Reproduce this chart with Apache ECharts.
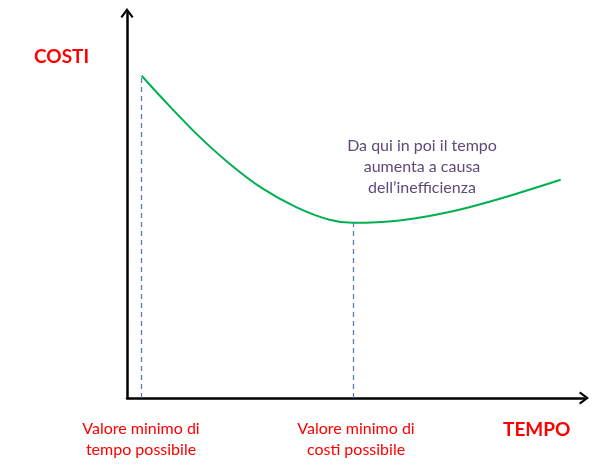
<!DOCTYPE html>
<html>
<head>
<meta charset="utf-8">
<script src="https://cdn.jsdelivr.net/npm/echarts@6/dist/echarts.min.js"></script>
<style>
  html, body { margin: 0; padding: 0; background: #fff; }
  #chart { width: 600px; height: 466px; }
</style>
</head>
<body>
<div id="chart"></div>
<script>
// tempo (x) and costi (y) on a 0-100 scale
var tempo = [3.2, 7.9, 15.2, 22.5, 29.8, 37.0, 44.3, 49.4, 59.6, 70.5, 81.4, 94.9];
var costi = [83.7, 77.6, 68.6, 60.8, 54.3, 49.6, 46.3, 45.5, 46.1, 48.3, 51.7, 56.7];

// the two marked points: first point and the minimum
var tempoMinIdx = 0;
var costoMinIdx = 7;

var labelCosti = 'COSTI';
var labelTempo = 'TEMPO';
var labelTempoMin = 'Valore minimo di\ntempo possibile';
var labelCostoMin = 'Valore minimo di\ncosti possibile';
var nota = 'Da qui in poi il tempo\naumenta a causa\ndell\u2019inefficienza';

var curve = tempo.map(function (t, i) { return [t, costi[i]]; });

var chart = echarts.init(document.getElementById('chart'));

var axisStyle = {
    show: true,
    symbol: ['none', 'path://M-6,8 L0,0 L6,8 L4.4,9.2 L0,3.2 L-4.4,9.2 Z'],
    symbolSize: [13, 11],
    symbolOffset: [0, 0],
    lineStyle: { color: '#000', width: 2.5 }
};

chart.setOption({
    animation: false,
    grid: { left: 127, right: 16, top: 13, bottom: 68 },
    xAxis: {
        type: 'value', min: 0, max: 100,
        axisLine: axisStyle,
        axisTick: { show: false }, axisLabel: { show: false }, splitLine: { show: false }
    },
    yAxis: {
        type: 'value', min: 0, max: 100,
        axisLine: axisStyle,
        axisTick: { show: false }, axisLabel: { show: false }, splitLine: { show: false }
    },
    series: [{
        type: 'line',
        data: curve,
        smooth: 0.3,
        showSymbol: false,
        lineStyle: { color: '#00B050', width: 2 },
        markLine: {
            silent: true,
            symbol: 'none',
            label: { show: false },
            lineStyle: { color: '#4F81BD', width: 1.3, type: [5, 4] },
            data: [
                [{ coord: [tempo[tempoMinIdx], 0] }, { coord: [tempo[tempoMinIdx], costi[tempoMinIdx]] }],
                [{ coord: [tempo[costoMinIdx], 0] }, { coord: [tempo[costoMinIdx], costi[costoMinIdx]] }]
            ]
        }
    }],
    graphic: [
        { type: 'text', left: 34, top: 47, style: { text: labelCosti, fill: '#FF0000', font: 'bold 19px Lato' } },
        { type: 'text', left: 503, top: 420, style: { text: labelTempo, fill: '#FF0000', font: 'bold 19px Lato' } },
        { type: 'text', x: 141, y: 418, style: { text: labelTempoMin, fill: '#FF0000', font: '16px Lato', align: 'center', lineHeight: 21 } },
        { type: 'text', x: 356, y: 418, style: { text: labelCostoMin, fill: '#FF0000', font: '16px Lato', align: 'center', lineHeight: 21 } },
        { type: 'text', x: 422, y: 135, style: { text: nota, fill: '#5F497A', font: '16px Lato', align: 'center', lineHeight: 21 } }
    ]
});
</script>
</body>
</html>
